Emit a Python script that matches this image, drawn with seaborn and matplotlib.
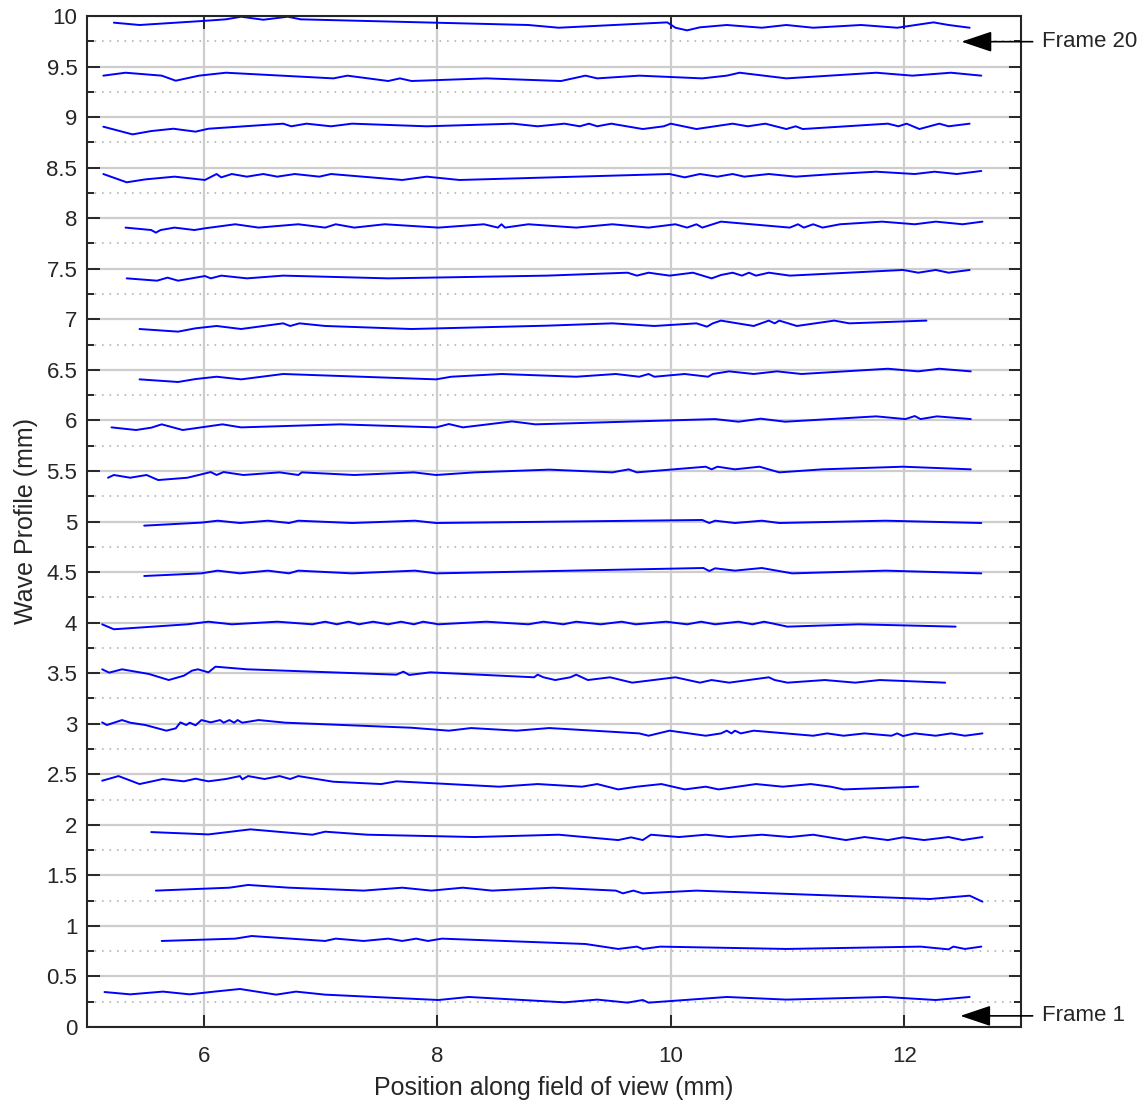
import numpy as np
import pandas as pd
import seaborn as sns
import matplotlib.pyplot as plt
from matplotlib.ticker import MultipleLocator, FuncFormatter

# Wave profiles, one pair of arrays per frame (mm)
frame01_x = [5.15, 5.37, 5.65, 5.88, 6.09, 6.31, 6.62, 6.79, 7.04, 8.01, 8.27, 9.09, 9.37, 9.63, 9.76, 9.81, 10.48, 10.99, 11.84, 12.27, 12.56]
frame01_y = [0.346, 0.323, 0.35, 0.323, 0.35, 0.376, 0.32, 0.35, 0.32, 0.267, 0.297, 0.244, 0.271, 0.241, 0.267, 0.241, 0.297, 0.271, 0.297, 0.267, 0.297]

frame02_x = [5.64, 6.27, 6.41, 7.04, 7.13, 7.37, 7.58, 7.70, 7.82, 7.92, 8.04, 9.27, 9.55, 9.71, 9.76, 9.91, 10.99, 12.14, 12.38, 12.42, 12.52, 12.66]
frame02_y = [0.851, 0.874, 0.9, 0.851, 0.874, 0.851, 0.874, 0.851, 0.874, 0.851, 0.874, 0.821, 0.772, 0.795, 0.772, 0.795, 0.772, 0.795, 0.768, 0.795, 0.772, 0.795]

frame03_x = [5.59, 6.22, 6.38, 6.73, 7.37, 7.70, 7.95, 8.22, 8.47, 8.99, 9.53, 9.59, 9.68, 9.76, 10.22, 12.22, 12.56, 12.67]
frame03_y = [1.349, 1.378, 1.405, 1.378, 1.349, 1.378, 1.349, 1.378, 1.349, 1.378, 1.349, 1.322, 1.349, 1.322, 1.349, 1.266, 1.299, 1.24]

frame04_x = [5.55, 6.04, 6.40, 6.93, 7.04, 7.40, 8.32, 9.04, 9.55, 9.66, 9.76, 9.83, 10.07, 10.30, 10.50, 10.78, 11.02, 11.22, 11.50, 11.66, 11.86, 11.99, 12.17, 12.38, 12.50, 12.67]
frame04_y = [1.928, 1.905, 1.955, 1.902, 1.932, 1.902, 1.879, 1.902, 1.849, 1.876, 1.849, 1.902, 1.879, 1.902, 1.879, 1.902, 1.879, 1.902, 1.849, 1.879, 1.849, 1.876, 1.849, 1.879, 1.849, 1.879]

frame05_x = [5.13, 5.27, 5.45, 5.65, 5.83, 5.93, 6.04, 6.19, 6.31, 6.33, 6.38, 6.52, 6.65, 6.74, 6.81, 7.11, 7.52, 7.65, 8.53, 8.86, 9.24, 9.37, 9.55, 9.71, 9.92, 10.12, 10.30, 10.41, 10.73, 10.96, 11.20, 11.37, 11.48, 12.12]
frame05_y = [2.436, 2.482, 2.403, 2.453, 2.43, 2.456, 2.43, 2.453, 2.482, 2.45, 2.482, 2.453, 2.482, 2.453, 2.482, 2.426, 2.403, 2.43, 2.377, 2.403, 2.377, 2.403, 2.35, 2.377, 2.403, 2.35, 2.377, 2.35, 2.403, 2.377, 2.403, 2.377, 2.35, 2.377]

frame06_x = [5.13, 5.17, 5.30, 5.37, 5.50, 5.68, 5.76, 5.80, 5.85, 5.88, 5.93, 5.98, 6.06, 6.14, 6.17, 6.22, 6.26, 6.29, 6.33, 6.47, 6.70, 7.78, 8.10, 8.29, 8.68, 8.96, 9.73, 9.81, 9.99, 10.30, 10.43, 10.48, 10.52, 10.55, 10.60, 10.71, 11.22, 11.34, 11.48, 11.66, 11.89, 11.94, 11.99, 12.09, 12.27, 12.40, 12.52, 12.67]
frame06_y = [3.013, 2.987, 3.036, 3.01, 2.987, 2.931, 2.954, 3.013, 2.987, 3.01, 2.984, 3.036, 3.013, 3.036, 3.01, 3.036, 3.01, 3.036, 3.01, 3.036, 3.01, 2.96, 2.931, 2.957, 2.931, 2.957, 2.904, 2.881, 2.931, 2.881, 2.904, 2.931, 2.904, 2.931, 2.904, 2.931, 2.881, 2.904, 2.881, 2.904, 2.881, 2.904, 2.878, 2.904, 2.881, 2.904, 2.881, 2.904]

frame07_x = [5.13, 5.19, 5.30, 5.53, 5.70, 5.83, 5.90, 5.95, 6.04, 6.10, 6.37, 7.65, 7.71, 7.76, 7.94, 8.83, 8.86, 8.91, 9.01, 9.14, 9.19, 9.29, 9.48, 9.67, 10.04, 10.25, 10.35, 10.50, 10.84, 10.89, 11.00, 11.32, 11.58, 11.79, 12.35]
frame07_y = [3.538, 3.505, 3.538, 3.492, 3.432, 3.475, 3.525, 3.538, 3.508, 3.564, 3.538, 3.485, 3.515, 3.482, 3.508, 3.459, 3.485, 3.459, 3.432, 3.459, 3.485, 3.432, 3.459, 3.406, 3.459, 3.406, 3.432, 3.406, 3.459, 3.432, 3.406, 3.432, 3.406, 3.432, 3.406]

frame08_x = [5.13, 5.23, 5.86, 6.04, 6.24, 6.63, 6.93, 7.04, 7.14, 7.24, 7.33, 7.45, 7.58, 7.69, 7.80, 7.88, 8.01, 8.42, 8.78, 8.91, 9.08, 9.19, 9.40, 9.58, 9.70, 9.96, 10.14, 10.26, 10.38, 10.58, 10.70, 10.80, 11.00, 11.61, 12.44]
frame08_y = [3.983, 3.934, 3.983, 4.009, 3.983, 4.009, 3.983, 4.009, 3.983, 4.009, 3.983, 4.009, 3.983, 4.009, 3.983, 4.009, 3.983, 4.009, 3.983, 4.009, 3.983, 4.009, 3.983, 4.009, 3.983, 4.009, 3.983, 4.009, 3.983, 4.009, 3.983, 4.009, 3.96, 3.983, 3.96]

frame09_x = [5.49, 5.98, 6.12, 6.31, 6.55, 6.73, 6.81, 7.27, 7.81, 7.99, 10.28, 10.33, 10.38, 10.55, 10.78, 11.04, 11.84, 12.66]
frame09_y = [4.461, 4.487, 4.514, 4.487, 4.514, 4.487, 4.514, 4.487, 4.514, 4.487, 4.54, 4.51, 4.537, 4.514, 4.54, 4.487, 4.514, 4.487]

frame10_x = [5.49, 5.98, 6.12, 6.31, 6.55, 6.73, 6.81, 7.27, 7.81, 7.99, 10.27, 10.33, 10.38, 10.55, 10.78, 10.93, 11.84, 12.66]
frame10_y = [4.959, 4.989, 5.008, 4.985, 5.008, 4.985, 5.008, 4.985, 5.008, 4.985, 5.015, 4.985, 5.008, 4.985, 5.008, 4.985, 5.008, 4.985]

frame11_x = [5.18, 5.23, 5.37, 5.51, 5.61, 5.86, 6.06, 6.11, 6.17, 6.34, 6.65, 6.81, 6.84, 7.29, 7.80, 7.99, 8.32, 8.96, 9.50, 9.64, 9.71, 10.30, 10.35, 10.40, 10.55, 10.76, 10.93, 11.30, 11.99, 12.57]
frame11_y = [5.433, 5.46, 5.433, 5.46, 5.41, 5.433, 5.489, 5.46, 5.489, 5.46, 5.486, 5.46, 5.486, 5.46, 5.486, 5.46, 5.486, 5.513, 5.486, 5.516, 5.486, 5.542, 5.516, 5.542, 5.516, 5.542, 5.486, 5.516, 5.542, 5.516]

frame12_x = [5.21, 5.42, 5.55, 5.64, 5.82, 6.16, 6.32, 7.17, 7.99, 8.10, 8.22, 8.64, 8.84, 10.38, 10.58, 10.77, 10.98, 11.76, 12.01, 12.09, 12.14, 12.28, 12.57]
frame12_y = [5.931, 5.905, 5.928, 5.961, 5.905, 5.961, 5.931, 5.961, 5.931, 5.964, 5.931, 5.99, 5.961, 6.013, 5.987, 6.017, 5.987, 6.04, 6.013, 6.043, 6.013, 6.04, 6.013]

frame13_x = [5.45, 5.78, 5.93, 6.11, 6.32, 6.68, 7.99, 8.12, 8.55, 9.19, 9.53, 9.73, 9.81, 9.86, 10.12, 10.32, 10.36, 10.50, 10.71, 10.91, 11.12, 11.86, 12.12, 12.30, 12.57]
frame13_y = [6.406, 6.38, 6.409, 6.432, 6.406, 6.459, 6.406, 6.432, 6.459, 6.432, 6.459, 6.432, 6.459, 6.432, 6.459, 6.432, 6.459, 6.485, 6.459, 6.485, 6.459, 6.511, 6.485, 6.511, 6.485]

frame14_x = [5.45, 5.78, 5.93, 6.11, 6.32, 6.68, 6.74, 6.82, 7.04, 7.78, 8.94, 9.50, 9.86, 10.22, 10.31, 10.36, 10.43, 10.71, 10.84, 10.89, 10.93, 11.08, 11.40, 11.53, 12.19]
frame14_y = [6.904, 6.878, 6.911, 6.934, 6.904, 6.96, 6.934, 6.96, 6.934, 6.904, 6.937, 6.96, 6.934, 6.96, 6.927, 6.96, 6.987, 6.934, 6.987, 6.96, 6.987, 6.934, 6.987, 6.96, 6.987]

frame15_x = [5.34, 5.60, 5.69, 5.78, 6.01, 6.06, 6.15, 6.37, 6.68, 7.58, 8.94, 9.63, 9.71, 9.81, 9.99, 10.19, 10.35, 10.43, 10.53, 10.61, 10.67, 10.73, 10.84, 11.02, 11.99, 12.12, 12.27, 12.38, 12.56]
frame15_y = [7.405, 7.382, 7.412, 7.382, 7.428, 7.405, 7.432, 7.405, 7.432, 7.405, 7.432, 7.461, 7.432, 7.461, 7.432, 7.461, 7.405, 7.438, 7.461, 7.432, 7.461, 7.432, 7.461, 7.432, 7.488, 7.461, 7.488, 7.461, 7.488]

frame16_x = [5.33, 5.55, 5.59, 5.63, 5.75, 5.92, 6.01, 6.27, 6.47, 6.81, 7.04, 7.13, 7.29, 7.55, 8.01, 8.40, 8.52, 8.55, 8.58, 8.78, 9.19, 9.50, 9.81, 10.04, 10.14, 10.22, 10.27, 10.43, 11.02, 11.09, 11.14, 11.22, 11.30, 11.45, 11.81, 12.09, 12.27, 12.50, 12.67]
frame16_y = [7.907, 7.883, 7.857, 7.883, 7.907, 7.883, 7.9, 7.94, 7.907, 7.94, 7.907, 7.94, 7.907, 7.94, 7.907, 7.94, 7.907, 7.94, 7.907, 7.94, 7.907, 7.94, 7.907, 7.94, 7.907, 7.94, 7.907, 7.966, 7.907, 7.94, 7.907, 7.94, 7.907, 7.94, 7.966, 7.94, 7.966, 7.94, 7.966]

frame17_x = [5.14, 5.34, 5.50, 5.75, 6.01, 6.11, 6.15, 6.24, 6.37, 6.51, 6.63, 6.78, 6.99, 7.09, 7.70, 7.91, 8.19, 9.99, 10.12, 10.25, 10.40, 10.53, 10.63, 10.84, 11.07, 11.40, 11.76, 12.09, 12.26, 12.45, 12.66]
frame17_y = [8.437, 8.355, 8.384, 8.411, 8.378, 8.437, 8.404, 8.437, 8.411, 8.437, 8.411, 8.437, 8.411, 8.437, 8.378, 8.411, 8.378, 8.437, 8.404, 8.437, 8.411, 8.437, 8.411, 8.437, 8.411, 8.437, 8.46, 8.437, 8.46, 8.437, 8.467]

frame18_x = [5.14, 5.39, 5.55, 5.74, 5.93, 6.04, 6.68, 6.75, 6.88, 7.09, 7.27, 7.91, 8.65, 8.86, 9.09, 9.22, 9.30, 9.37, 9.49, 9.76, 9.94, 10.00, 10.22, 10.53, 10.66, 10.81, 10.99, 11.07, 11.13, 11.86, 11.95, 12.02, 12.13, 12.30, 12.38, 12.56]
frame18_y = [8.905, 8.829, 8.862, 8.885, 8.856, 8.885, 8.935, 8.909, 8.935, 8.909, 8.935, 8.909, 8.935, 8.909, 8.935, 8.909, 8.935, 8.909, 8.935, 8.882, 8.909, 8.935, 8.882, 8.935, 8.909, 8.935, 8.882, 8.909, 8.882, 8.935, 8.909, 8.935, 8.882, 8.935, 8.909, 8.935]

frame19_x = [5.14, 5.33, 5.64, 5.76, 5.96, 6.19, 7.11, 7.23, 7.58, 7.68, 7.78, 8.42, 9.06, 9.27, 9.37, 9.73, 10.27, 10.48, 10.59, 10.99, 11.76, 12.07, 12.40, 12.66]
frame19_y = [9.41, 9.439, 9.41, 9.36, 9.41, 9.439, 9.383, 9.41, 9.357, 9.383, 9.357, 9.383, 9.357, 9.41, 9.383, 9.41, 9.383, 9.41, 9.439, 9.383, 9.439, 9.41, 9.439, 9.41]

frame20_x = [5.23, 5.45, 5.98, 6.19, 6.32, 6.51, 6.72, 6.83, 8.78, 9.04, 9.97, 10.04, 10.14, 10.25, 10.48, 10.78, 10.99, 11.22, 11.63, 11.94, 12.25, 12.38, 12.56]
frame20_y = [9.934, 9.911, 9.95, 9.967, 9.993, 9.963, 9.993, 9.967, 9.911, 9.884, 9.937, 9.884, 9.858, 9.888, 9.911, 9.884, 9.911, 9.884, 9.911, 9.884, 9.937, 9.911, 9.884]

frames = [
    (frame01_x, frame01_y), (frame02_x, frame02_y), (frame03_x, frame03_y), (frame04_x, frame04_y),
    (frame05_x, frame05_y), (frame06_x, frame06_y), (frame07_x, frame07_y), (frame08_x, frame08_y),
    (frame09_x, frame09_y), (frame10_x, frame10_y), (frame11_x, frame11_y), (frame12_x, frame12_y),
    (frame13_x, frame13_y), (frame14_x, frame14_y), (frame15_x, frame15_y), (frame16_x, frame16_y),
    (frame17_x, frame17_y), (frame18_x, frame18_y), (frame19_x, frame19_y), (frame20_x, frame20_y),
]

rows = []
for i, (xs, ys) in enumerate(frames, start=1):
    for xv, yv in zip(xs, ys):
        rows.append({'frame': i, 'x': xv, 'y': yv})
df = pd.DataFrame(rows)

sns.set_theme(style='white')
plt.rcParams['font.family'] = ['Liberation Sans', 'DejaVu Sans']

fig = plt.figure(figsize=(11.46, 11.06), dpi=100)
ax = fig.add_axes([87 / 1146, 1 - 1027 / 1106, (1021 - 87) / 1146, (1027 - 16) / 1106])

sns.lineplot(data=df, x='x', y='y', units='frame', estimator=None, sort=False,
             color='#0000ff', linewidth=1.4, ax=ax)

ax.set_xlim(5, 13)
ax.set_ylim(0, 10)
ax.xaxis.set_major_locator(MultipleLocator(2))
ax.yaxis.set_major_locator(MultipleLocator(0.5))
ax.yaxis.set_minor_locator(MultipleLocator(0.25))
ax.yaxis.set_major_formatter(FuncFormatter(lambda v, p: f'{v:g}'))

ax.grid(which='major', color='#cdcdcd', linewidth=1.6, linestyle='-')
ax.yaxis.grid(which='minor', color='#b4b4b4', linewidth=1.2, linestyle=(0, (1, 3.5)))
ax.set_axisbelow(True)

ax.tick_params(which='both', direction='in', top=True, right=True, bottom=True, left=True,
               colors='#262626', labelcolor='#262626', labelsize=16)
ax.tick_params(which='major', length=9, width=1.4)
ax.tick_params(which='minor', length=5, width=1.4)
ax.tick_params(axis='x', pad=14)
ax.tick_params(axis='y', pad=7)
for s in ax.spines.values():
    s.set_color('#262626')
    s.set_linewidth(1.5)

ax.set_xlabel('Position along field of view (mm)', fontsize=18, color='#262626', labelpad=6)
ax.set_ylabel('Wave Profile (mm)', fontsize=18, color='#262626', labelpad=6)

arrow = dict(arrowstyle='-|>,head_length=0.95,head_width=0.32', color='black', lw=1.2,
             mutation_scale=20, shrinkA=0, shrinkB=0)
ax.annotate('', xy=(12.49, 9.746), xytext=(13.1, 9.746), arrowprops=arrow, annotation_clip=False)
ax.text(13.18, 9.746, 'Frame 20', fontsize=16, ha='left', va='center', clip_on=False)
ax.annotate('', xy=(12.48, 0.11), xytext=(13.1, 0.11), arrowprops=arrow, annotation_clip=False)
ax.text(13.18, 0.11, 'Frame 1', fontsize=16, ha='left', va='center', clip_on=False)

fig.savefig('out.png', dpi=100)
